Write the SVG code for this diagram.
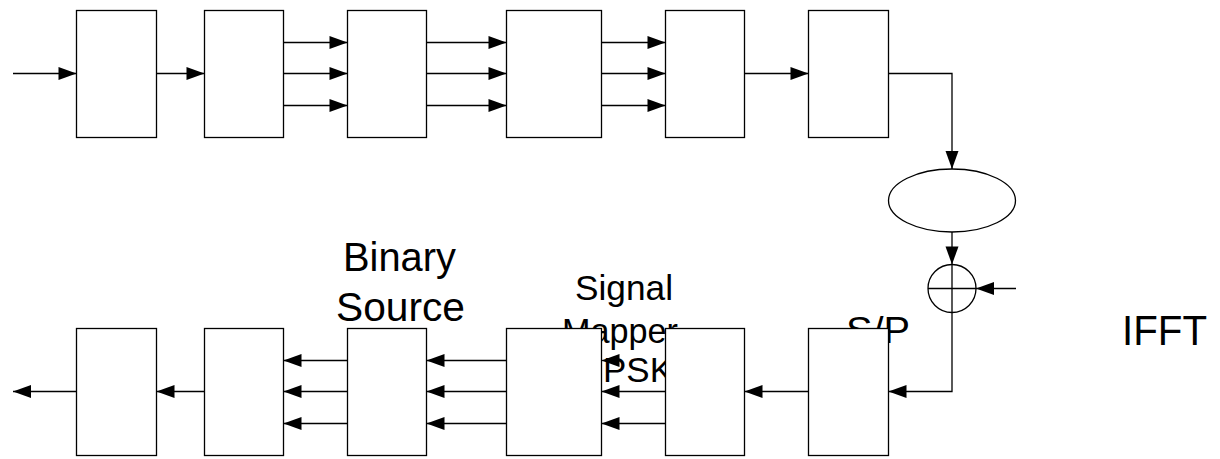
<svg xmlns="http://www.w3.org/2000/svg" width="1220" height="459" viewBox="0 0 1220 459">
<style>
.box{fill:#fff;stroke:#000;stroke-width:1.3}
.ln{fill:none;stroke:#000;stroke-width:1.3}
.lbl{font-family:"Liberation Sans",Arial,sans-serif;fill:#000}
</style>
<defs>
<marker id="ah" markerUnits="userSpaceOnUse" markerWidth="20" markerHeight="14" refX="18" refY="6.5" orient="auto" overflow="visible">
<path d="M0,0 L18,6.5 L0,13 z" fill="#000"/>
</marker>
</defs>
<rect width="1220" height="459" fill="#fff"/>
<g id="labels">
<text class="lbl" x="343" y="271" font-size="40" textLength="113" lengthAdjust="spacingAndGlyphs">Binary</text>
<text class="lbl" x="336" y="321" font-size="40" textLength="129" lengthAdjust="spacingAndGlyphs">Source</text>
<text class="lbl" x="575" y="300" font-size="35" textLength="98" lengthAdjust="spacingAndGlyphs">Signal</text>
<text class="lbl" x="562" y="343" font-size="35" textLength="116" lengthAdjust="spacingAndGlyphs">Mapper</text>
<text class="lbl" x="603" y="382" font-size="35" textLength="70" lengthAdjust="spacingAndGlyphs">PSK</text>
<text class="lbl" x="846" y="343" font-size="37" textLength="64" lengthAdjust="spacingAndGlyphs">S/P</text>
<text class="lbl" x="1122" y="345" font-size="42" textLength="85" lengthAdjust="spacingAndGlyphs">IFFT</text>
</g>
<g id="connectors">
<path class="ln" marker-end="url(#ah)" d="M13,73.5 H76.5"/>
<path class="ln" marker-end="url(#ah)" d="M156.5,73.5 H204.5"/>
<path class="ln" marker-end="url(#ah)" d="M283.5,42.5 H347.5"/>
<path class="ln" marker-end="url(#ah)" d="M283.5,73.5 H347.5"/>
<path class="ln" marker-end="url(#ah)" d="M283.5,105.5 H347.5"/>
<path class="ln" marker-end="url(#ah)" d="M426.5,42.5 H506.5"/>
<path class="ln" marker-end="url(#ah)" d="M426.5,73.5 H506.5"/>
<path class="ln" marker-end="url(#ah)" d="M426.5,105.5 H506.5"/>
<path class="ln" marker-end="url(#ah)" d="M601.5,42.5 H665.5"/>
<path class="ln" marker-end="url(#ah)" d="M601.5,73.5 H665.5"/>
<path class="ln" marker-end="url(#ah)" d="M601.5,105.5 H665.5"/>
<path class="ln" marker-end="url(#ah)" d="M744.5,73.5 H808.5"/>
<path class="ln" marker-end="url(#ah)" d="M888.5,73.5 H952 V169"/>
<path class="ln" marker-end="url(#ah)" d="M952,232 V264.5"/>
<path class="ln" marker-end="url(#ah)" d="M1016,288.5 H976"/>
<path class="ln" marker-end="url(#ah)" d="M952,312.5 V391.5 H888.5"/>
<path class="ln" marker-end="url(#ah)" d="M808.5,391.5 H744.5"/>
<path class="ln" marker-end="url(#ah)" d="M619,360.5 H601.5"/>
<path class="ln" marker-end="url(#ah)" d="M665.5,391.5 H601.5"/>
<path class="ln" marker-end="url(#ah)" d="M665.5,423.5 H601.5"/>
<path class="ln" marker-end="url(#ah)" d="M506.5,360.5 H426.5"/>
<path class="ln" marker-end="url(#ah)" d="M506.5,391.5 H426.5"/>
<path class="ln" marker-end="url(#ah)" d="M506.5,423.5 H426.5"/>
<path class="ln" marker-end="url(#ah)" d="M347.5,360.5 H283.5"/>
<path class="ln" marker-end="url(#ah)" d="M347.5,391.5 H283.5"/>
<path class="ln" marker-end="url(#ah)" d="M347.5,423.5 H283.5"/>
<path class="ln" marker-end="url(#ah)" d="M204.5,391.5 H156.5"/>
<path class="ln" marker-end="url(#ah)" d="M76.5,391.5 H13"/>
</g>
<g id="t1"><rect class="box" x="76.5" y="10.5" width="80" height="127"/></g>
<g id="t2"><rect class="box" x="204.5" y="10.5" width="79" height="127"/></g>
<g id="t3"><rect class="box" x="347.5" y="10.5" width="79" height="127"/></g>
<g id="t4"><rect class="box" x="506.5" y="10.5" width="95" height="127"/></g>
<g id="t5"><rect class="box" x="665.5" y="10.5" width="79" height="127"/></g>
<g id="t6"><rect class="box" x="808.5" y="10.5" width="80" height="127"/></g>
<g id="channel"><ellipse class="box" cx="952" cy="200.5" rx="63.5" ry="31.5"/></g>
<g id="adder">
<circle class="box" cx="952" cy="288.5" r="24"/>
<path class="ln" d="M928,288.5 H976 M952,264.5 V312.5"/>
</g>
<g id="b6"><rect class="box" x="808.5" y="328.5" width="80" height="127"/></g>
<g id="b5"><rect class="box" x="665.5" y="328.5" width="79" height="127"/></g>
<g id="b4"><rect class="box" x="506.5" y="328.5" width="95" height="127"/></g>
<g id="b3"><rect class="box" x="347.5" y="328.5" width="79" height="127"/></g>
<g id="b2"><rect class="box" x="204.5" y="328.5" width="79" height="127"/></g>
<g id="b1"><rect class="box" x="76.5" y="328.5" width="80" height="127"/></g>
</svg>
